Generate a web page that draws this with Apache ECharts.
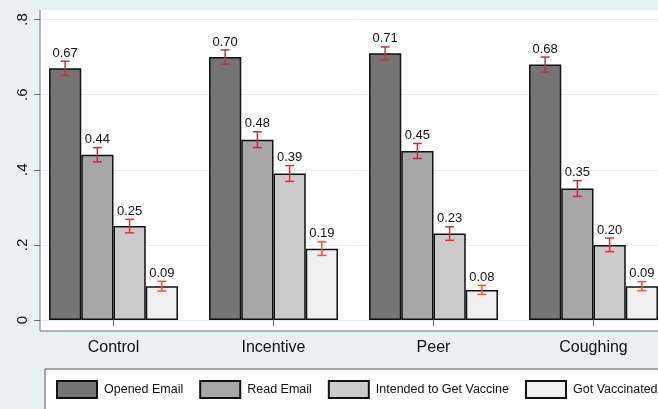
<!DOCTYPE html>
<html>
<head>
<meta charset="utf-8">
<script src="https://cdn.jsdelivr.net/npm/echarts@6/dist/echarts.min.js"></script>
<style>
  html, body { margin: 0; padding: 0; background: #e9f1f3; overflow: hidden; }
  #chart { width: 720px; height: 409px; }
</style>
</head>
<body>
<div id="chart"></div>
<script>
var categories = ['Control', 'Incentive', 'Peer', 'Coughing'];
var measures = ['Opened Email', 'Read Email', 'Intended to Get Vaccine', 'Got Vaccinated'];

// one array per measure, in category order
var openedEmail = [0.67, 0.70, 0.71, 0.68];
var readEmail = [0.44, 0.48, 0.45, 0.35];
var intendedVaccine = [0.25, 0.39, 0.23, 0.20];
var gotVaccinated = [0.09, 0.19, 0.08, 0.09];

// half width of the confidence interval
var openedErr = [0.019, 0.019, 0.017, 0.020];
var readErr = [0.019, 0.021, 0.020, 0.021];
var intendedErr = [0.018, 0.021, 0.018, 0.018];
var vaccinatedErr = [0.013, 0.018, 0.012, 0.012];

var yTicks = [0, 0.2, 0.4, 0.6, 0.8];

var values = [openedEmail, readEmail, intendedVaccine, gotVaccinated];
var errors = [openedErr, readErr, intendedErr, vaccinatedErr];
var barColors = ['#747474', '#a7a7a7', '#cbcbcb', '#f0f0f0'];
var errColors = ['#b5364f', '#d3234b', '#e8302e', '#ff5225'];
var gapRatio = 0.194;

// the page is wider than the window so the last group and the legend run off the right edge
var chart = echarts.init(document.getElementById('chart'), null, { renderer: 'canvas' });

var series = [];
measures.forEach(function (name, k) {
  series.push({
    name: name,
    type: 'bar',
    data: values[k],
    barGap: '0%',
    barCategoryGap: (gapRatio * 100) + '%',
    itemStyle: { color: barColors[k], borderColor: '#111', borderWidth: 1.5 },
    emphasis: { disabled: true },
    z: 3
  });
});

measures.forEach(function (name, k) {
  series.push({
    name: name + ' CI',
    type: 'custom',
    data: values[k].map(function (v, i) {
      return [i, v, v - errors[k][i], v + errors[k][i]];
    }),
    renderItem: function (params, api) {
      var cat = api.value(0);
      var band = api.size([1, 0])[0];
      var barW = band * (1 - gapRatio) / 4;
      var cx = api.coord([cat, 0])[0] + (k - 1.5) * barW;
      var lo = api.coord([cat, api.value(2)])[1];
      var hi = api.coord([cat, api.value(3)])[1];
      var cap = 4.5;
      var st = { stroke: errColors[k], lineWidth: 1.5 };
      return {
        type: 'group',
        children: [
          { type: 'line', shape: { x1: cx, y1: lo, x2: cx, y2: hi }, style: st },
          { type: 'line', shape: { x1: cx - cap, y1: lo, x2: cx + cap, y2: lo }, style: st },
          { type: 'line', shape: { x1: cx - cap, y1: hi, x2: cx + cap, y2: hi }, style: st },
          {
            type: 'text',
            style: {
              x: cx, y: hi - 1.5,
              text: api.value(1).toFixed(2),
              fill: '#111',
              font: '13px "Liberation Sans", Arial, sans-serif',
              align: 'center', verticalAlign: 'bottom'
            }
          }
        ]
      };
    },
    z: 5
  });
});

var option = {
  backgroundColor: '#e9f1f3',
  animation: false,
  graphic: [
    { type: 'rect', z: -10, shape: { x: 40, y: 10, width: 680, height: 321 }, style: { fill: '#ffffff' } },
    { type: 'line', z: 10, shape: { x1: 40, y1: 10, x2: 40, y2: 331 }, style: { stroke: '#6e6e6e', lineWidth: 1 } },
    { type: 'line', z: 10, shape: { x1: 40, y1: 331, x2: 720, y2: 331 }, style: { stroke: '#6e6e6e', lineWidth: 1 } }
  ],
  grid: { left: 33.5, top: 19.5, width: 640, bottom: 89, containLabel: false },
  legend: {
    data: measures,
    left: 45, top: 369,
    icon: 'rect',
    itemWidth: 40, itemHeight: 17,
    itemGap: 16,
    padding: [11, 30, 11, 11],
    backgroundColor: '#ffffff',
    borderColor: '#555',
    borderWidth: 1,
    borderRadius: 0,
    selectedMode: false,
    itemStyle: { borderColor: '#111', borderWidth: 2 },
    textStyle: {
      fontSize: 12.5, color: '#111', padding: [0, 0, 0, 2],
      fontFamily: '"Liberation Sans", Arial, sans-serif'
    }
  },
  xAxis: {
    type: 'category',
    data: categories,
    offset: 11,
    axisLine: { show: false },
    axisTick: { show: true, alignWithLabel: true, length: 6, lineStyle: { color: '#6e6e6e' } },
    axisLabel: { fontSize: 16, color: '#111', margin: 9, fontFamily: '"Liberation Sans", Arial, sans-serif' },
    splitLine: { show: false }
  },
  yAxis: {
    type: 'value',
    min: yTicks[0],
    max: yTicks[yTicks.length - 1],
    interval: 0.2,
    offset: -6.5,
    axisLine: { show: false },
    axisTick: { show: true, length: 6, lineStyle: { color: '#6e6e6e' } },
    axisLabel: {
      rotate: 90,
      fontSize: 15,
      color: '#111',
      margin: 10,
      fontFamily: '"Liberation Sans", Arial, sans-serif',
      formatter: function (v) { return v === 0 ? '0' : String(+v.toFixed(1)).replace('0.', '.'); }
    },
    splitLine: { show: true, lineStyle: { color: '#e3edf3', width: 1 } }
  },
  series: series
};

chart.setOption(option);
</script>
</body>
</html>
